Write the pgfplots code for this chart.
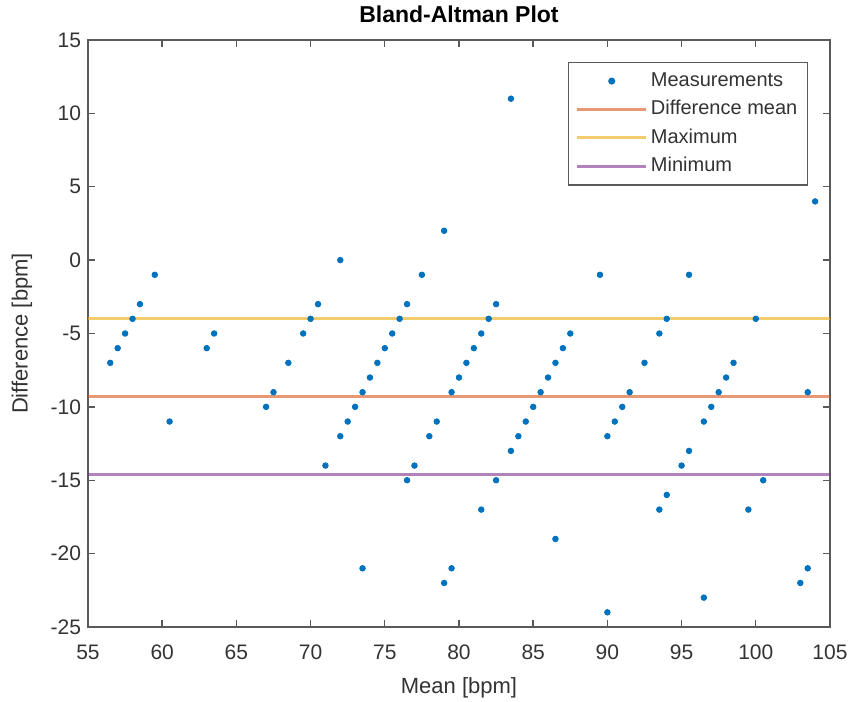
\documentclass[border=0pt]{standalone}
\usepackage{pgfplots}
\pgfplotsset{compat=1.18}
\usepackage{fontspec}
\setmainfont{Liberation Sans}
\definecolor{mblue}{rgb}{0,0.447,0.741}
\definecolor{morange}{rgb}{0.85,0.325,0.098}
\definecolor{myellow}{rgb}{0.929,0.694,0.125}
\definecolor{mpurple}{rgb}{0.494,0.184,0.556}
\definecolor{axgray}{rgb}{0.2,0.2,0.2}
\definecolor{linegray}{rgb}{0.35,0.35,0.35}
\begin{document}
\begin{tikzpicture}
\useasboundingbox (0,0) rectangle (424pt,351pt);
\begin{axis}[
  at={(44pt,37.5pt)}, anchor=south west,
  width=371pt, height=293.5pt, scale only axis,
  xmin=55, xmax=105, ymin=-25, ymax=15,
  xtick={55,60,...,105}, ytick={-25,-20,...,15},
  tick align=inside, major tick length=3.5pt,
  axis line style={linegray, line width=0.9pt},
  tick style={linegray, line width=0.7pt},
  /pgf/number format/assume math mode=true,
  ticklabel style={font=\fontsize{10.5}{12}\selectfont, text=axgray},
  xticklabel style={yshift=-5.5pt},
  title={Bland-Altman Plot},
  every axis title/.style={font=\bfseries\fontsize{11.5}{13}\selectfont, at={(0.5,1)}, anchor=center, yshift=13pt},
  xlabel={Mean [bpm]},
  ylabel={Difference [bpm]},
  xlabel style={font=\fontsize{11}{13}\selectfont, text=axgray, at={(0.5,-0.104)}, anchor=center},
  ylabel style={font=\fontsize{11}{13}\selectfont, text=axgray, at={(-0.089,0.5)}, anchor=center},
  legend style={at={(0.9704,0.9625)}, anchor=north east, draw=linegray, line width=0.7pt,
    font=\fontsize{10}{12}\selectfont, text=axgray, row sep=1.5pt, inner xsep=3.5pt, inner ysep=3pt,
    nodes={inner xsep=1.5pt}},
  legend cell align=left,
  legend image code/.code={\draw[mark repeat=2,mark phase=2] plot coordinates {(0cm,0cm) (0.61cm,0cm) (1.22cm,0cm)};},
]
\addplot[only marks, mark=*, mark size=1.4pt, color=mblue] table {
x y
56.5 -7
57 -6
57.5 -5
58 -4
58.5 -3
59.5 -1
60.5 -11
63 -6
63.5 -5
67 -10
67.5 -9
68.5 -7
69.5 -5
70 -4
70.5 -3
71 -14
72 -12
72 0
72.5 -11
73 -10
73.5 -9
73.5 -21
74 -8
74.5 -7
75 -6
75.5 -5
76 -4
76.5 -3
76.5 -15
77 -14
77.5 -1
78 -12
78.5 -11
79 2
79 -22
79.5 -9
79.5 -21
80 -8
80.5 -7
81 -6
81.5 -5
81.5 -17
82 -4
82.5 -3
82.5 -15
83.5 -13
83.5 11
84 -12
84.5 -11
85 -10
85.5 -9
86 -8
86.5 -7
86.5 -19
87 -6
87.5 -5
89.5 -1
90 -12
90 -24
90.5 -11
91 -10
91.5 -9
92.5 -7
93.5 -5
93.5 -17
94 -4
94 -16
95 -14
95.5 -13
95.5 -1
96.5 -11
96.5 -23
97 -10
97.5 -9
98 -8
98.5 -7
99.5 -17
100 -4
100.5 -15
103 -22
103.5 -21
103.5 -9
104 4
};
\addlegendentry{Measurements}
\addplot[morange, line width=1.4pt, opacity=0.6] coordinates {(55,-9.28) (105,-9.28)};
\addlegendentry{Difference mean}
\addplot[myellow, line width=1.5pt, opacity=0.65] coordinates {(55,-3.95) (105,-3.95)};
\addlegendentry{Maximum}
\addplot[mpurple, line width=1.4pt, opacity=0.6] coordinates {(55,-14.61) (105,-14.61)};
\addlegendentry{Minimum}
\end{axis}
\end{tikzpicture}
\end{document}
